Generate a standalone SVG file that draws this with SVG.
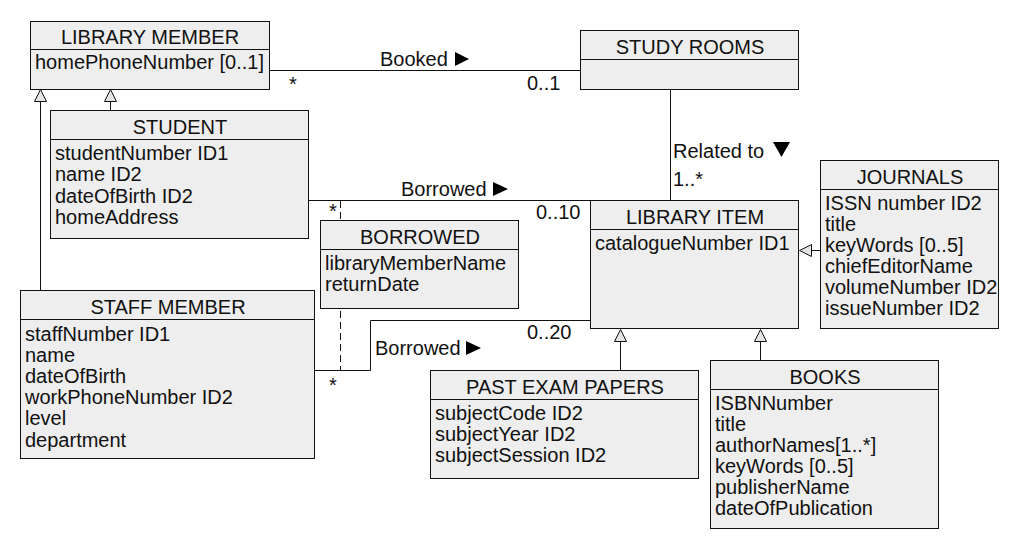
<svg xmlns="http://www.w3.org/2000/svg" width="1020" height="550" viewBox="0 0 1020 550">
<style>
text{font-family:"Liberation Sans",Arial,sans-serif;font-size:20px;fill:#111}
.t{text-anchor:middle}
.box{fill:#eeeeee;stroke:#111;stroke-width:1}
.sep{stroke:#111;stroke-width:1}
.ln{fill:none;stroke:#111;stroke-width:1}
.dash{fill:none;stroke:#111;stroke-width:1;stroke-dasharray:7,4}
.gen{fill:#e4e4e4;stroke:#111;stroke-width:1}
.dir{fill:#000}
</style>
<rect width="1020" height="550" fill="#fff"/>
<g id="connectors">
  <line class="ln" x1="269" y1="70.5" x2="581" y2="70.5"/>
  <line class="ln" x1="670.5" y1="89" x2="670.5" y2="201"/>
  <line class="ln" x1="309" y1="200.5" x2="591" y2="200.5"/>
  <polyline class="ln" points="315,370.5 370.5,370.5 370.5,320.5 591,320.5"/>
  <line class="dash" x1="340.5" y1="201" x2="340.5" y2="370"/>
  <line class="ln" x1="110.5" y1="111" x2="110.5" y2="101"/>
  <polygon class="gen" points="110.5,89.5 104.5,101.5 116.5,101.5"/>
  <line class="ln" x1="40.5" y1="291" x2="40.5" y2="101"/>
  <polygon class="gen" points="40.5,89.5 34.5,101.5 46.5,101.5"/>
  <line class="ln" x1="821" y1="250.5" x2="811" y2="250.5"/>
  <polygon class="gen" points="799.5,250.5 811.5,244.5 811.5,256.5"/>
  <line class="ln" x1="620.5" y1="371" x2="620.5" y2="341"/>
  <polygon class="gen" points="620.5,329.5 614.5,341.5 626.5,341.5"/>
  <line class="ln" x1="760.5" y1="361" x2="760.5" y2="341"/>
  <polygon class="gen" points="760.5,329.5 754.5,341.5 766.5,341.5"/>
  <text x="380" y="66">Booked</text>
  <polygon class="dir" points="455,52 469,59 455,66"/>
  <text x="289" y="91">*</text>
  <text x="527" y="89.5">0..1</text>
  <text x="673" y="158">Related to</text>
  <polygon class="dir" points="773,142 790,142 781.5,157"/>
  <text x="673" y="186">1..*</text>
  <text x="401" y="196">Borrowed</text>
  <polygon class="dir" points="493,182 508,189 493,196"/>
  <text x="329" y="218">*</text>
  <text x="536" y="218.5">0..10</text>
  <text x="375" y="355">Borrowed</text>
  <polygon class="dir" points="466,341 481,348 466,355"/>
  <text x="527" y="339">0..20</text>
  <text x="329" y="392">*</text>
</g>
<g id="library-member">
  <rect class="box" x="30.5" y="21.5" width="239" height="68"/>
  <line class="sep" x1="30.5" y1="49.5" x2="269.5" y2="49.5"/>
  <text class="t" x="150" y="44">LIBRARY MEMBER</text>
  <text x="35" y="69">homePhoneNumber [0..1]</text>
</g>
<g id="study-rooms">
  <rect class="box" x="580.5" y="30.5" width="218" height="59"/>
  <line class="sep" x1="580.5" y1="59.5" x2="798.5" y2="59.5"/>
  <text class="t" x="690" y="53.5">STUDY ROOMS</text>
</g>
<g id="student">
  <rect class="box" x="50.5" y="110.5" width="258" height="128"/>
  <line class="sep" x1="50.5" y1="139.5" x2="308.5" y2="139.5"/>
  <text class="t" x="180" y="134">STUDENT</text>
  <text x="55" y="160">studentNumber ID1</text>
  <text x="55" y="181.3">name ID2</text>
  <text x="55" y="202.6">dateOfBirth ID2</text>
  <text x="55" y="224">homeAddress</text>
</g>
<g id="borrowed">
  <rect class="box" x="320.5" y="220.5" width="198" height="88"/>
  <line class="sep" x1="320.5" y1="249.5" x2="518.5" y2="249.5"/>
  <text class="t" x="420" y="243.5">BORROWED</text>
  <text x="325" y="270">libraryMemberName</text>
  <text x="325" y="291">returnDate</text>
</g>
<g id="staff-member">
  <rect class="box" x="20.5" y="290.5" width="294" height="168"/>
  <line class="sep" x1="20.5" y1="319.5" x2="314.5" y2="319.5"/>
  <text class="t" x="168" y="313.5">STAFF MEMBER</text>
  <text x="25" y="340.5">staffNumber ID1</text>
  <text x="25" y="361.7">name</text>
  <text x="25" y="382.9">dateOfBirth</text>
  <text x="25" y="404.1">workPhoneNumber ID2</text>
  <text x="25" y="425.3">level</text>
  <text x="25" y="446.5">department</text>
</g>
<g id="library-item">
  <rect class="box" x="590.5" y="200.5" width="208" height="128"/>
  <line class="sep" x1="590.5" y1="229.5" x2="798.5" y2="229.5"/>
  <text class="t" x="695" y="224">LIBRARY ITEM</text>
  <text x="595" y="250">catalogueNumber ID1</text>
</g>
<g id="journals">
  <rect class="box" x="820.5" y="160.5" width="178" height="168"/>
  <line class="sep" x1="820.5" y1="189.5" x2="998.5" y2="189.5"/>
  <text class="t" x="910" y="184">JOURNALS</text>
  <text x="825" y="210">ISSN number ID2</text>
  <text x="825" y="231">title</text>
  <text x="825" y="252">keyWords [0..5]</text>
  <text x="825" y="273">chiefEditorName</text>
  <text x="825" y="294">volumeNumber ID2</text>
  <text x="825" y="315">issueNumber ID2</text>
</g>
<g id="past-exam-papers">
  <rect class="box" x="430.5" y="370.5" width="268" height="108"/>
  <line class="sep" x1="430.5" y1="399.5" x2="698.5" y2="399.5"/>
  <text class="t" x="565" y="393.5">PAST EXAM PAPERS</text>
  <text x="435" y="420">subjectCode ID2</text>
  <text x="435" y="441">subjectYear ID2</text>
  <text x="435" y="462">subjectSession ID2</text>
</g>
<g id="books">
  <rect class="box" x="710.5" y="360.5" width="228" height="168"/>
  <line class="sep" x1="710.5" y1="389.5" x2="938.5" y2="389.5"/>
  <text class="t" x="825" y="383.5">BOOKS</text>
  <text x="715" y="410">ISBNNumber</text>
  <text x="715" y="431">title</text>
  <text x="715" y="452">authorNames[1..*]</text>
  <text x="715" y="473">keyWords [0..5]</text>
  <text x="715" y="494">publisherName</text>
  <text x="715" y="515">dateOfPublication</text>
</g>
</svg>
